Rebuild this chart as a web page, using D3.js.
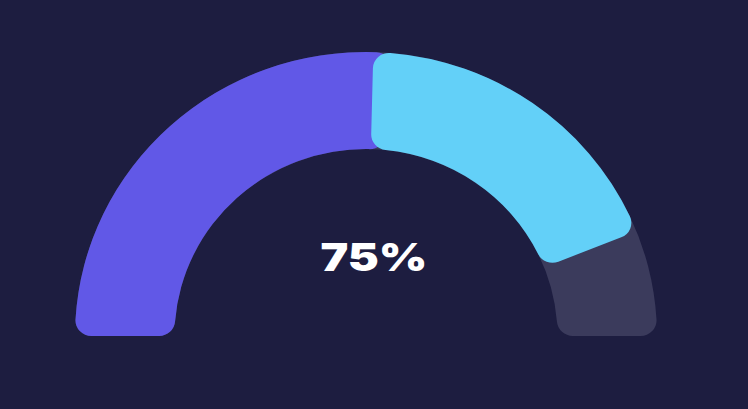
<!DOCTYPE html>
<html>
<head>
<meta charset="utf-8">
<script src="https://cdn.jsdelivr.net/npm/d3@7"></script>
<style>
  html, body { margin: 0; padding: 0; background: #1d1d40; }
  svg { display: block; }
</style>
</head>
<body>
<svg id="chart" width="748" height="409"></svg>
<script>
// ---- data ----
const segmentNames  = ["Track", "Filled", "Value"];
const segmentStart  = [0, 0, 50.8];   // percent of the gauge (0 = left, 100 = right)
const segmentEnd    = [100, 53, 88];
const segmentColors = ["#3b3b5c", "#6158e7", "#63d0f8"];
const labelText     = ["75%"];

// ---- layout ----
const width = 748, height = 409;
const cx = 366, cy = 336;
const outerR = 291, innerR = 191.5;
const yScale = 0.976;

const svg = d3.select("#chart");
svg.append("rect").attr("width", width).attr("height", height).attr("fill", "#1d1d40");

const angle = d3.scaleLinear().domain([0, 100]).range([-Math.PI / 2, Math.PI / 2]);

const arc = d3.arc()
  .innerRadius(innerR)
  .outerRadius(outerR)
  .cornerRadius(16);

const g = svg.append("g").attr("transform", `translate(${cx},${cy}) scale(1,${yScale})`);

g.selectAll("path.seg")
  .data(segmentNames.map((n, i) => ({ name: n, s: segmentStart[i], e: segmentEnd[i], c: segmentColors[i] })))
  .join("path")
  .attr("class", "seg")
  .attr("d", d => arc({ startAngle: angle(d.s), endAngle: angle(d.e) }))
  .attr("fill", d => d.c);

svg.append("text")
  .attr("x", 374)
  .attr("y", 271)
  .attr("text-anchor", "middle")
  .attr("fill", "#ffffff")
  .attr("textLength", 107)
  .attr("lengthAdjust", "spacingAndGlyphs")
  .style("font-family", "Inter, 'Open Sans', sans-serif")
  .style("font-weight", 900)
  .style("font-size", "39px")
  .text(labelText[0]);
</script>
</body>
</html>
